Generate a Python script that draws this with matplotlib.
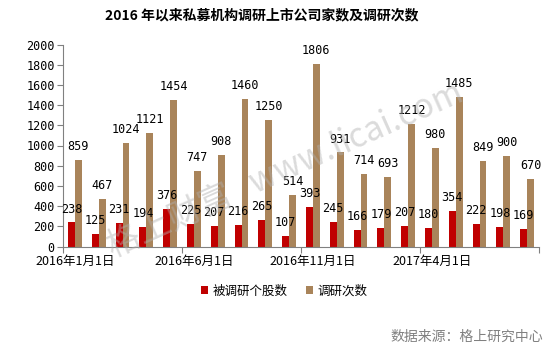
import numpy as np
import matplotlib.pyplot as plt

plt.rcParams['font.family'] = ['Noto Sans CJK SC', 'DejaVu Sans']

# monthly data, 2016-01 .. 2017-08
months = ['2016年1月1日', '', '', '', '', '2016年6月1日', '', '', '', '',
          '2016年11月1日', '', '', '', '', '2017年4月1日', '', '', '', '']
stocks = [238, 125, 231, 194, 376, 225, 207, 216, 265, 107,
          393, 245, 166, 179, 207, 180, 354, 222, 198, 169]
visits = [859, 467, 1024, 1121, 1454, 747, 908, 1460, 1250, 514,
          1806, 931, 714, 693, 1212, 980, 1485, 849, 900, 670]

RED = '#C00000'
BROWN = '#A9845A'
MONO = ['DejaVu Sans Mono']

fig = plt.figure(figsize=(5.6, 3.51), dpi=100)
ax = fig.add_axes([63/560, 1 - 246.5/351, 476/560, 202/351])

x = np.arange(len(stocks))
w = 0.29
b1 = ax.bar(x - w/2, stocks, w, color=RED, label='被调研个股数', zorder=2)
b2 = ax.bar(x + w/2, visits, w, color=BROWN, label='调研次数', zorder=2)

for bars, vals in [(b1, stocks), (b2, visits)]:
    for rect, v in zip(bars, vals):
        ax.annotate(str(v), (rect.get_x() + rect.get_width()/2, v),
                    xytext=(0, 5), textcoords='offset points',
                    ha='center', va='bottom', fontsize=8.5, family=MONO, zorder=3)

ax.set_xlim(-0.5, len(stocks) - 0.5)
ax.set_ylim(0, 2000)
ax.set_yticks(range(0, 2001, 200))
ax.tick_params(axis='y', labelsize=8.5, length=4, color='#808080', pad=2)
for lab in ax.get_yticklabels():
    lab.set_family(MONO)

# ticks at category boundaries, labels under category centres
ax.set_xticks(np.arange(-0.5, len(stocks), 5))
ax.set_xticklabels([])
ax.tick_params(axis='x', length=4, color='#808080', direction='out')
ax.set_xticks(x, minor=True)
ax.set_xticklabels(months, minor=True, fontsize=9)
ax.tick_params(axis='x', which='minor', length=0, pad=6)

for s in ['top', 'right']:
    ax.spines[s].set_visible(False)
for s in ['left', 'bottom']:
    ax.spines[s].set_color('#808080')

fig.text(262/560, 1 - 15/351, '2016 年以来私募机构调研上市公司家数及调研次数',
         ha='center', va='center', fontsize=10, fontweight='bold')

fig.legend(loc='center', bbox_to_anchor=(284/560, 1 - 291/351), ncol=2,
           frameon=False, fontsize=9, handlelength=0.6, handleheight=0.6,
           handletextpad=0.3, columnspacing=1.5)

fig.text(543/560, 1 - 337/351, '数据来源：格上研究中心', ha='right', va='center',
         fontsize=10, color='#808080')

# watermark
fig.text(285/560, 1 - 170/351, '格上财富   www.licai.com', ha='center', va='center',
         fontsize=24, color='#B0B0B0', alpha=0.45, rotation=24, zorder=5)

fig.savefig('out.png', dpi=100)
